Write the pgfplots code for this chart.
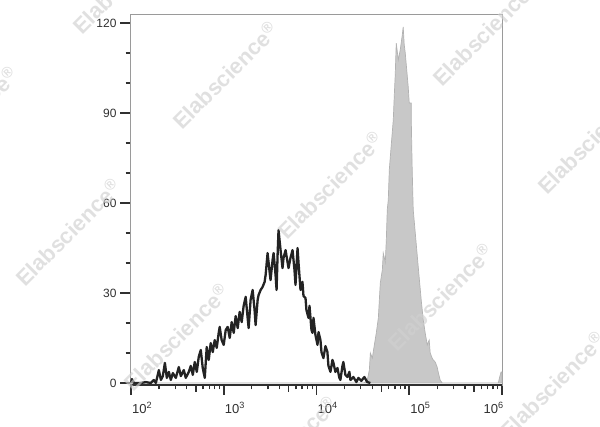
\documentclass[border=0pt]{standalone}
\usepackage{fontspec}
\setmainfont{Liberation Sans}
\usepackage{pgfplots}
\pgfplotsset{compat=1.18}
\definecolor{tickc}{HTML}{303030}
\definecolor{framec}{HTML}{9A9A9A}
\definecolor{histfill}{HTML}{C8C8C8}
\definecolor{histedge}{HTML}{B2B2B2}
\definecolor{linec}{HTML}{232323}
\definecolor{wmc}{HTML}{D0D0D0}
\begin{document}
\begin{tikzpicture}
\useasboundingbox (0pt,0pt) rectangle (600pt,427pt);
\begin{axis}[
  at={(130pt,42pt)}, anchor=south west,
  scale only axis, width=372pt, height=371pt,
  xmin=1.99, xmax=6, ymin=-0.67, ymax=123,
  clip=false,
  axis line style={draw=framec, line width=0.7pt},
  tick pos=left, tick align=outside,
  major tick length=10pt, minor tick length=4.5pt,
  major tick style={line width=1.8pt, color=tickc},
  minor tick style={line width=1.3pt, color=tickc},
  xtick={2,3,4,5,6},
  xticklabels={{10\textsuperscript{2}},{10\textsuperscript{3}},{10\textsuperscript{4}},{10\textsuperscript{5}},{\llap{10\textsuperscript{6}}}},
  xticklabel style={font=\fontsize{13}{15}\selectfont, text=tickc, anchor=north west, inner xsep=0pt, xshift=1pt, yshift=-4pt},
  minor xtick={2.301,2.477,2.602,2.778,2.845,2.903,2.954,
               3.301,3.477,3.602,3.778,3.845,3.903,3.954,
               4.301,4.477,4.602,4.778,4.845,4.903,4.954,
               5.301,5.477,5.602,5.778,5.845,5.903,5.954},
  extra x ticks={2.699,3.699,4.699,5.699},
  extra x tick labels={},
  extra x tick style={major tick length=7pt, major tick style={line width=1.5pt, color=tickc}},
  ytick={0,30,60,90,120},
  yticklabels={0,30,60,90,120},
  minor ytick={10,20,40,50,70,80,100,110},
  yticklabel style={font=\fontsize{12}{14}\selectfont, text=tickc},
]
% gray (filled) histogram
\addplot[fill=histfill, draw=histedge, line width=0.7pt] coordinates {
(1.99,0)(4.505,0)(4.527,0.3)(4.548,1)(4.570,4.3)(4.581,10)(4.602,8.3)(4.624,12.7)
(4.645,16.7)(4.667,21.7)(4.688,33.3)(4.710,37.7)(4.720,43.3)(4.742,40.3)(4.753,47.7)
(4.763,57.7)(4.774,61)(4.785,71)(4.806,79.3)(4.828,87.7)(4.839,96)(4.849,102.7)
(4.860,113.3)(4.882,107.7)(4.903,111)(4.925,116)(4.935,118.7)(4.946,112.7)(4.957,110)
(4.989,98.7)(5.000,93.3)(5.022,93.3)(5.022,87.7)(5.032,71)(5.043,57.7)(5.065,50)
(5.097,38.7)(5.129,27.7)(5.151,21)(5.172,16.7)(5.194,12.7)(5.215,14.3)(5.226,10)
(5.247,8.3)(5.258,7.7)(5.280,7)(5.301,5.3)(5.312,3.7)(5.333,1)(5.355,0)
(5.96,0)(5.975,2)(5.99,3.7)(6,3.7)(6,0)
} \closedcycle;
% black line histogram
\addplot[draw=linec, line width=2.3pt, line join=round] coordinates {
(2.000,0)(2.011,1.3)(2.032,0)(2.108,0)(2.161,0.3)(2.215,0)(2.247,1)(2.269,0)
(2.301,4.3)(2.323,1)(2.344,2.3)(2.366,6.7)(2.387,1.7)(2.409,3.7)(2.430,1)(2.452,3.3)
(2.484,1.7)(2.516,5.3)(2.538,2.3)(2.570,4.3)(2.591,1.7)(2.624,3.7)(2.645,5.7)(2.667,2.7)
(2.688,7)(2.710,3.7)(2.731,8.7)(2.753,11)(2.774,5)(2.796,1.7)(2.817,12)(2.839,7.7)
(2.860,13.3)(2.882,10.3)(2.903,14.3)(2.925,11.7)(2.946,16.7)(2.957,18.7)(2.978,14.3)
(3.000,12.7)(3.022,17.7)(3.043,18.7)(3.065,15)(3.086,20.3)(3.108,16.7)(3.129,22.3)
(3.151,18.3)(3.172,23.7)(3.194,20.3)(3.215,25.7)(3.237,28.7)(3.258,21.7)(3.269,18.3)
(3.290,27.7)(3.312,31)(3.333,24.3)(3.344,19.3)(3.366,27.7)(3.376,29.3)(3.398,31)
(3.419,32)(3.441,33.7)(3.452,36)(3.473,43.3)(3.495,37)(3.505,34.3)(3.527,41)(3.538,43.3)
(3.559,36)(3.570,31)(3.581,42.7)(3.591,51)(3.613,44.3)(3.634,38.3)(3.645,41.7)(3.667,44.3)
(3.688,40.3)(3.699,38.3)(3.720,41.7)(3.742,44.3)(3.763,37.7)(3.774,32.7)(3.796,45)
(3.806,40.3)(3.828,31)(3.849,33.7)(3.860,29)(3.882,28.3)(3.892,24.3)(3.914,21.7)
(3.925,25.7)(3.946,17.7)(3.957,16.7)(3.968,21.7)(3.989,16)(4.011,12.7)(4.022,17)
(4.043,14.3)(4.054,10.3)(4.075,8.3)(4.097,12.3)(4.118,10.3)(4.129,5.7)(4.151,3.7)
(4.172,7.7)(4.183,6.7)(4.204,3.7)(4.226,5)(4.247,1.7)(4.258,1)(4.280,5.7)(4.290,7)
(4.312,2.7)(4.333,2)(4.355,3.7)(4.366,1)(4.398,2)(4.430,0.3)(4.452,1.7)(4.484,0.7)
(4.516,2)(4.548,0.3)(4.581,0)
};
% black bottom axis line
\addplot[draw=tickc, line width=1.6pt, forget plot] coordinates {(1.99,-0.67)(6,-0.67)};
\end{axis}
% watermark
\begin{scope}
\clip (0pt,0pt) rectangle (600pt,427pt);
\foreach \px/\py in {125/-20, -35/120, 225/75, 485/32, 330/185, 590/140, 68/232, 440/297, 176/337, 552/385, 284/450}{
  \node[rotate=45, text=wmc, opacity=0.65, font=\bfseries\fontsize{22}{24}\selectfont]
    at (\px pt, 427pt-\py pt) {Elabscience\textsuperscript{\textregistered}};
}
\end{scope}
\end{tikzpicture}
\end{document}
